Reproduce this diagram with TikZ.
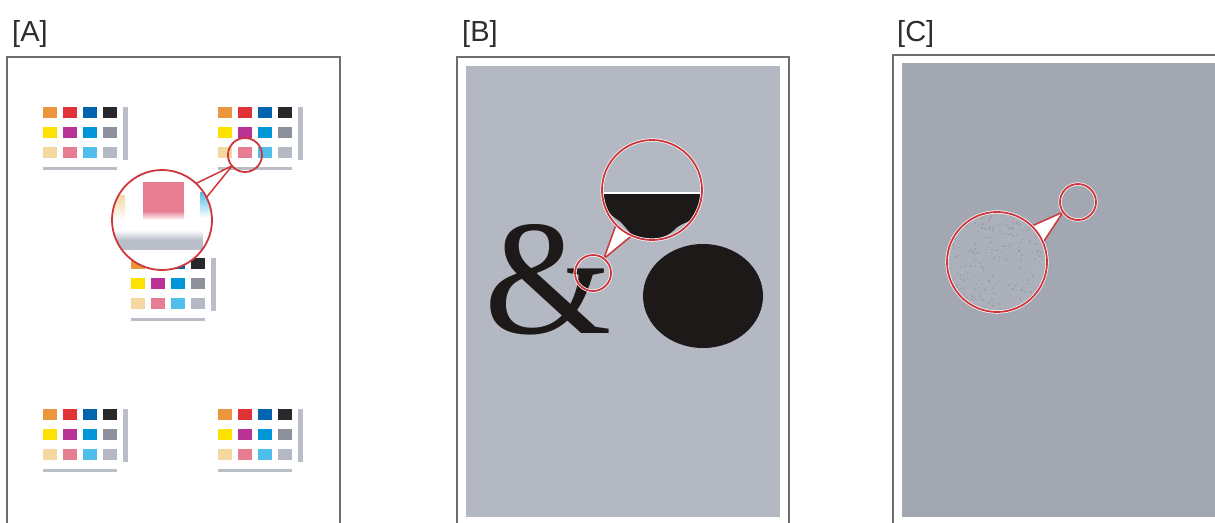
\documentclass[tikz,border=0pt]{standalone}
\usepackage{fontspec}
\newfontfamily\labelfont{Liberation Sans}
\newfontfamily\ampfont{Liberation Serif}
\usetikzlibrary{positioning, shapes.geometric}

\definecolor{swOrange}{RGB}{235,150,60}
\definecolor{swRed}{RGB}{225,50,55}
\definecolor{swBlue}{RGB}{0,100,175}
\definecolor{swBlack}{RGB}{40,40,45}
\definecolor{swYellow}{RGB}{255,225,0}
\definecolor{swMagenta}{RGB}{185,50,150}
\definecolor{swCyan}{RGB}{0,150,215}
\definecolor{swGray}{RGB}{140,145,155}
\definecolor{swPeach}{RGB}{245,215,160}
\definecolor{swPink}{RGB}{230,125,145}
\definecolor{swSky}{RGB}{80,190,235}
\definecolor{swSilver}{RGB}{180,185,195}
\definecolor{barGray}{RGB}{185,190,200}
\definecolor{frameGray}{RGB}{110,110,110}
\definecolor{labelGray}{RGB}{45,45,45}
\definecolor{paperB}{RGB}{180,184,195}
\definecolor{paperC}{RGB}{162,167,178}
\definecolor{inkBlack}{RGB}{30,25,25}
\definecolor{ringRed}{RGB}{205,55,60}

\pgfdeclarelayer{background}
\pgfsetlayers{background,main}

\tikzset{
  panelframe/.style={draw=frameGray, line width=1.2pt},
  panellabel/.style={font=\labelfont\fontsize{29}{29}\selectfont, text=labelGray, inner sep=0pt, anchor=base west},
  ring/.style={circle, draw=ringRed, line width=1.8pt, inner sep=0pt, outer sep=0pt},
  halo/.style={preaction={draw=white, line width=3.2pt}},
  wedge/.style={fill=white, draw=ringRed, line width=1.5pt, line join=round},
}

% one colour bar: 3 rows of 4 patches, a side bar and a bottom bar
\newcommand{\swatchgroup}[2]{%
  \begin{scope}[shift={(#1,#2)}]
    \foreach \col [count=\i from 0] in {swOrange,swRed,swBlue,swBlack,swYellow,swMagenta,swCyan,swGray,swPeach,swPink,swSky,swSilver}{
      \pgfmathtruncatemacro{\cx}{mod(\i,4)*20}
      \pgfmathtruncatemacro{\cy}{div(\i,4)*20}
      \fill[\col] (\cx,\cy) rectangle ++(14,11);
    }
    \fill[barGray] (80,0) rectangle (85,53);
    \fill[barGray] (0,60) rectangle (74,63);
  \end{scope}}

\begin{document}
\begin{tikzpicture}[x=1pt, y=-1pt]
  \useasboundingbox (0,0) rectangle (1215,522);

  % magnifier rings
  \node[ring, minimum size=34pt] (smA) at (245,155) {};
  \node[ring, minimum size=100pt] (bigA) at (162,220) {};
  \node[ring, halo, minimum size=36pt] (smB) at (593,273) {};
  \node[ring, halo, minimum size=100pt] (bigB) at (652,190) {};
  \node[ring, halo, minimum size=36pt] (smC) at (1078,202) {};
  \node[ring, halo, minimum size=100pt] (bigC) at (997,262) {};

  % labels
  \node[panellabel] (labA) at (12,41) {[A]};
  \node[panellabel] (labB) at (462,41) {[B]};
  \node[panellabel] (labC) at (897,41) {[C]};

  \begin{pgfonlayer}{background}
    % panel A
    \draw[panelframe] (7,523) -- (7,57) -- (340,57) -- (340,523);
    \swatchgroup{43}{107}
    \swatchgroup{218}{107}
    \swatchgroup{131}{258}
    \swatchgroup{43}{409}
    \swatchgroup{218}{409}
    \fill[white] (bigA) circle (50pt);
    \begin{scope}
      \clip (bigA) circle (50pt);
      \shade[top color=swPeach, bottom color=white] (108,195) rectangle (125,220);
      \fill[swPink] (143,182) rectangle (184,211);
      \shade[top color=swPink, bottom color=white] (143,211) rectangle (184,220);
      \shade[top color=swSky, bottom color=white] (200,192) rectangle (214,218);
      \shade[top color=white, bottom color=barGray] (100,230) rectangle (203,240);
      \fill[barGray] (100,240) rectangle (203,250);
    \end{scope}
    \draw[wedge] (bigA.47) -- (smA.220) -- (bigA.27);

    % panel B
    \draw[panelframe] (457,523) -- (457,57) -- (789,57) -- (789,523);
    \fill[paperB] (466,66) rectangle (780,517);
    \node[font=\ampfont\fontsize{164}{164}\selectfont, text=inkBlack, inner sep=0pt, anchor=base west] (amp) at (484,333) {\&};
    \node[ellipse, fill=inkBlack, minimum width=120pt, minimum height=104pt, inner sep=0pt] (dot) at (703,296) {};
    \fill[paperB] (bigB) circle (50pt);
    \begin{scope}
      \clip (bigB) circle (50pt);
      \fill[inkBlack] (598,194) -- (706,194) -- (706,214)
        .. controls (694,220) and (684,222) .. (676,228)
        .. controls (666,240) and (645,242) .. (634,236)
        .. controls (628,232) and (624,224) .. (618,220)
        .. controls (608,214) and (603,204) .. (598,194) -- cycle;
      \draw[white, line width=1.2pt] (598,193) -- (706,193);
    \end{scope}
    \draw[wedge] (bigB.224) -- (smB.53) -- (bigB.246);

    % panel C
    \draw[panelframe] (893,523) -- (893,55) -- (1216,55);
    \fill[paperC] (902,63) rectangle (1216,517);
    \fill[paperC!90!white] (bigC) circle (50pt);
    \begin{scope}
      \clip (bigC) circle (50pt);
      \pgfmathsetseed{7}
      \foreach \k in {1,...,350}{
        \pgfmathsetmacro{\px}{947+100*rnd}
        \pgfmathsetmacro{\py}{212+100*rnd}
        \fill[paperC!70!black, opacity=0.25] (\px,\py) rectangle ++(1.5,1.5);
      }
    \end{scope}
    \draw[wedge] (bigC.46) -- (smC.214) -- (bigC.23);
  \end{pgfonlayer}
\end{tikzpicture}
\end{document}
